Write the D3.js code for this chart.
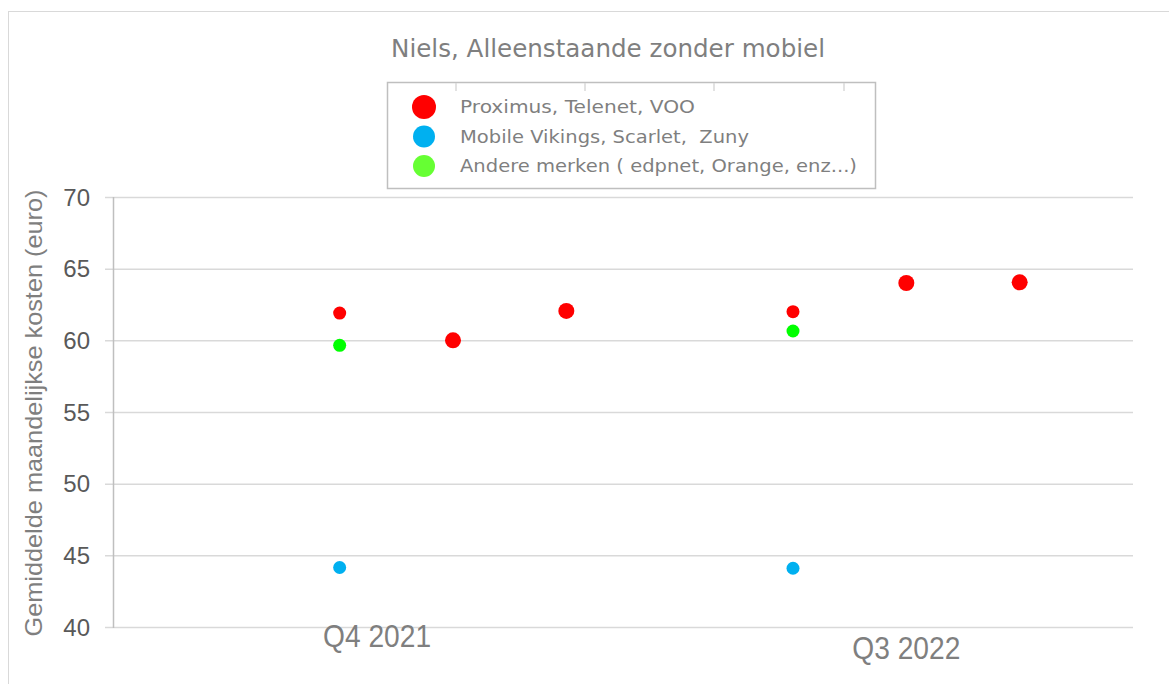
<!DOCTYPE html>
<html>
<head>
<meta charset="utf-8">
<script src="https://cdn.jsdelivr.net/npm/d3@7"></script>
<style>
body { margin: 0; background: #fff; }
</style>
</head>
<body>
<div id="chart"></div>
<script>
//Size
var w = 1169;
var h = 684;

//Data
var quarters = ["Q4 2021", "Q3 2022"];
var quarterAt = [2.33, 7];
var groupX = [2, 6];
var redSmall = [61.9, 62.0];
var green = [59.65, 60.65];
var blue = [44.15, 44.1];
var redLargeX = [3, 4, 7, 8];
var redLarge = [60.0, 62.05, 64.0, 64.05];
var yTicks = [40, 45, 50, 55, 60, 65, 70];
var legendLabels = ["Proximus, Telenet, VOO", "Mobile Vikings, Scarlet,  Zuny", "Andere merken ( edpnet, Orange, enz...)"];
var legendColors = ["#ff0000", "#00b0f0", "#66ff33"];

//Scales
var xScale = d3.scaleLinear().domain([0, 9]).range([113, 1133]);
var yScale = d3.scaleLinear().domain([40, 70]).range([627, 197]);

var svg = d3.select("#chart")
.append("svg")
.attr("width", w)
.attr("height", h)
.attr("font-family", "DejaVu Sans, Verdana, sans-serif");

//Outer border
svg.append("rect")
.attr("x", 8.5)
.attr("y", 11.5)
.attr("width", w + 10)
.attr("height", h + 10)
.attr("fill", "none")
.attr("stroke", "#d9d9d9");

//Title
svg.append("text")
.attr("x", 608)
.attr("y", 57)
.attr("text-anchor", "middle")
.attr("font-size", 25)
.attr("fill", "#7f7f7f")
.attr("textLength", 434)
.attr("lengthAdjust", "spacingAndGlyphs")
.text("Niels, Alleenstaande zonder mobiel");

//Gridlines
svg.append("g")
.selectAll("line")
.data(yTicks)
.enter()
.append("line")
.attr("x1", 105)
.attr("x2", 1133)
.attr("y1", function(d) { return yScale(d) + 0.5; })
.attr("y2", function(d) { return yScale(d) + 0.5; })
.attr("stroke", "#d9d9d9")
.attr("stroke-width", 1.5);

//Y axis line
svg.append("line")
.attr("x1", 113.5).attr("x2", 113.5)
.attr("y1", yScale(70)).attr("y2", yScale(40) + 1)
.attr("stroke", "#bfbfbf")
.attr("stroke-width", 1.5);

//Y tick labels
svg.append("g")
.selectAll("text")
.data(yTicks)
.enter()
.append("text")
.attr("x", 90)
.attr("y", function(d) { return yScale(d); })
.attr("dy", "0.36em")
.attr("text-anchor", "end")
.attr("font-family", "Liberation Sans, Arial, sans-serif")
.attr("font-size", 24)
.attr("fill", "#595959")
.text(function(d) { return d; });

//Y axis title
svg.append("text")
.attr("transform", "translate(42," + 413 + ") rotate(-90)")
.attr("text-anchor", "middle")
.attr("font-family", "Liberation Sans, Arial, sans-serif")
.attr("font-size", 24)
.attr("fill", "#7f7f7f")
.attr("textLength", 447)
.attr("lengthAdjust", "spacingAndGlyphs")
.text("Gemiddelde maandelijkse kosten (euro)");

//X labels
var quarterDy = [0, 12];
svg.append("g")
.selectAll("text")
.data(quarters)
.enter()
.append("text")
.attr("x", function(d, i) { return xScale(quarterAt[i]); })
.attr("y", function(d, i) { return 647 + quarterDy[i]; })
.attr("text-anchor", "middle")
.attr("font-family", "Liberation Sans, Arial, sans-serif")
.attr("font-size", 32)
.attr("fill", "#7f7f7f")
.attr("textLength", 108)
.attr("lengthAdjust", "spacingAndGlyphs")
.text(function(d) { return d; });

//Points
function dots(xs, ys, color, r) {
	svg.append("g")
	.selectAll("circle")
	.data(ys)
	.enter()
	.append("circle")
	.attr("cx", function(d, i) { return xScale(xs[i]); })
	.attr("cy", function(d) { return yScale(d); })
	.attr("r", r)
	.attr("fill", color);
}
dots(groupX, redSmall, "#ff0000", 6.5);
dots(groupX, green, "#00ff00", 6.5);
dots(groupX, blue, "#00b0f0", 6.5);
dots(redLargeX, redLarge, "#ff0000", 8);

//Legend
var legend = svg.append("g").attr("transform", "translate(387,82)");
legend.append("rect")
.attr("x", 0.5).attr("y", 0.5)
.attr("width", 488).attr("height", 106)
.attr("fill", "#fff")
.attr("stroke", "#bfbfbf")
.attr("stroke-width", 1.5);
//little marks on the top edge
legend.selectAll("line.mark")
.data([69, 198, 327, 457])
.enter()
.append("line")
.attr("class", "mark")
.attr("x1", function(d) { return d; })
.attr("x2", function(d) { return d; })
.attr("y1", 1).attr("y2", 9)
.attr("stroke", "#d9d9d9")
.attr("stroke-width", 1.5);
var legendWidths = [235, 289, 397];
var items = legend.selectAll("g.item")
.data(legendLabels)
.enter()
.append("g")
.attr("class", "item")
.attr("transform", function(d, i) { return "translate(0," + (25 + i * 29.5) + ")"; });
items.append("circle")
.attr("cx", 37)
.attr("cy", 0)
.attr("r", function(d, i) { return i === 0 ? 12 : 11; })
.attr("fill", function(d, i) { return legendColors[i]; });
items.append("text")
.attr("x", 73)
.attr("y", 0)
.attr("dy", "0.36em")
.attr("font-size", 18)
.attr("fill", "#7f7f7f")
.style("white-space", "pre")
.attr("textLength", function(d, i) { return legendWidths[i]; })
.attr("lengthAdjust", "spacingAndGlyphs")
.text(function(d) { return d; });
</script>
</body>
</html>
